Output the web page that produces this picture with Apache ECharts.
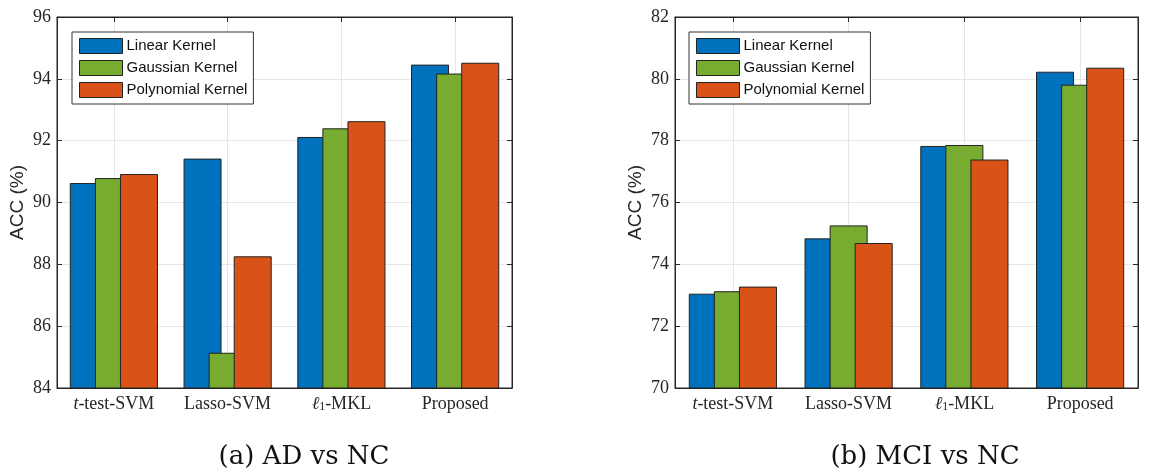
<!DOCTYPE html>
<html>
<head>
<meta charset="utf-8">
<script src="https://cdn.jsdelivr.net/npm/echarts@6/dist/echarts.min.js"></script>
<style>
  html, body { margin: 0; padding: 0; background: #fff; }
  #chart { width: 1152px; height: 475px; }
</style>
</head>
<body>
<div id="chart"></div>
<script>
const categories = ['t-test-SVM', 'Lasso-SVM', 'l1-MKL', 'Proposed']
const kernels = ['Linear Kernel', 'Gaussian Kernel', 'Polynomial Kernel']
const colors = ['#0072BD', '#77AC30', '#D95319']

// (a) AD vs NC
const adLinear = [90.63, 91.42, 92.12, 94.46]
const adGaussian = [90.79, 85.14, 92.40, 94.17]
const adPoly = [90.92, 88.26, 92.63, 94.52]
const adTicks = [84, 86, 88, 90, 92, 94, 96]

// (b) MCI vs NC
const mciLinear = [73.05, 74.84, 77.83, 80.23]
const mciGaussian = [73.13, 75.26, 77.86, 79.81]
const mciPoly = [73.28, 74.69, 77.39, 80.36]
const mciTicks = [70, 72, 74, 76, 78, 80, 82]

const captions = ['(a) AD vs NC', '(b) MCI vs NC']

const serif = '"Liberation Serif", "DejaVu Serif", serif'
const sans = '"Liberation Sans", Arial, sans-serif'
const edge = '#262626'

const grids = [
  { left: 57, top: 17, width: 455, height: 371 },
  { left: 675, top: 17, width: 463, height: 371 }
]

function fmtCat(v) {
  if (v === 't-test-SVM') return '{it|t}-test-SVM'
  if (v === 'l1-MKL') return '{it|ℓ}{sub|1}-MKL'
  return v
}

function xAxes(i) {
  return [{
    type: 'category', gridIndex: i, data: categories, position: 'bottom',
    axisLine: { show: true, lineStyle: { color: edge, width: 1 } },
    axisTick: { show: true, inside: true, alignWithLabel: true, length: 5, lineStyle: { color: edge } },
    splitLine: { show: true, alignWithLabel: true, lineStyle: { color: '#e6e6e6', width: 1 } },
    axisLabel: {
      interval: 0,
      color: '#262626', fontFamily: serif, fontSize: 18, margin: 7, formatter: fmtCat,
      rich: {
        it: { fontStyle: 'italic', fontFamily: serif, fontSize: 18, color: '#262626' },
        sub: { fontSize: 12, fontFamily: serif, color: '#262626', verticalAlign: 'bottom', lineHeight: 12 }
      }
    }
  }, {
    type: 'category', gridIndex: i, data: categories, position: 'top',
    axisLine: { show: true, lineStyle: { color: edge, width: 1 } },
    axisTick: { show: true, inside: true, alignWithLabel: true, length: 5, lineStyle: { color: edge } },
    axisLabel: { show: false }, splitLine: { show: false }
  }]
}

function yAxes(i, ticks) {
  const base = {
    type: 'value', gridIndex: i, min: ticks[0], max: ticks[ticks.length - 1], interval: 2
  }
  return [Object.assign({}, base, {
    position: 'left',
    name: 'ACC (%)', nameLocation: 'middle', nameGap: 30,
    nameTextStyle: { fontFamily: sans, fontSize: 19, color: '#262626' },
    axisLine: { show: true, lineStyle: { color: edge, width: 1 } },
    axisTick: { show: true, inside: true, length: 5, lineStyle: { color: edge } },
    splitLine: { show: true, lineStyle: { color: '#e6e6e6', width: 1 } },
    axisLabel: { color: '#262626', fontFamily: serif, fontSize: 18, margin: 6 }
  }), Object.assign({}, base, {
    position: 'right',
    axisLine: { show: true, lineStyle: { color: edge, width: 1 } },
    axisTick: { show: true, inside: true, length: 5, lineStyle: { color: edge } },
    splitLine: { show: false }, axisLabel: { show: false }
  })]
}

function barSeries(name, data, idx, panel) {
  return {
    type: 'bar', name: name, data: data,
    xAxisIndex: panel * 2, yAxisIndex: panel * 2,
    barWidth: 38, barGap: '-34%',
    itemStyle: { color: colors[idx], borderColor: '#222', borderWidth: 1 },
    emphasis: { disabled: true }
  }
}

function legendAt(left) {
  return {
    left: left, top: 32, orient: 'vertical',
    data: kernels, icon: 'rect', itemWidth: 43, itemHeight: 15, itemGap: 6,
    padding: [6, 6, 6, 7],
    backgroundColor: '#fff', borderColor: '#333', borderWidth: 1,
    textStyle: { fontFamily: sans, fontSize: 15, color: '#111', padding: [0, 0, 0, -1] },
    itemStyle: { borderColor: '#222', borderWidth: 1 }
  }
}

const chart = echarts.init(document.getElementById('chart'), null, { renderer: 'canvas' })
chart.setOption({
  backgroundColor: '#fff',
  animation: false,
  title: [
    { text: captions[0], left: 299, top: 439, textAlign: 'center',
      textStyle: { fontFamily: '"DejaVu Serif", serif', fontSize: 26, fontWeight: 'normal', color: '#111' } },
    { text: captions[1], left: 920, top: 439, textAlign: 'center',
      textStyle: { fontFamily: '"DejaVu Serif", serif', fontSize: 26, fontWeight: 'normal', color: '#111' } }
  ],
  legend: [legendAt(72), legendAt(689)],
  grid: grids.map(g => Object.assign({ show: true, borderColor: edge, borderWidth: 1, backgroundColor: '#fff' }, g)),
  xAxis: [...xAxes(0), ...xAxes(1)],
  yAxis: [...yAxes(0, adTicks), ...yAxes(1, mciTicks)],
  series: [
    barSeries(kernels[0], adLinear, 0, 0),
    barSeries(kernels[1], adGaussian, 1, 0),
    barSeries(kernels[2], adPoly, 2, 0),
    barSeries(kernels[0], mciLinear, 0, 1),
    barSeries(kernels[1], mciGaussian, 1, 1),
    barSeries(kernels[2], mciPoly, 2, 1)
  ]
})
</script>
</body>
</html>
